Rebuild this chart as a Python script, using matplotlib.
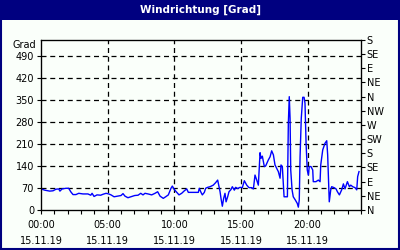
import matplotlib
matplotlib.use('Agg')
import matplotlib.pyplot as plt
from matplotlib.patches import Rectangle

# Zeit in Stunden ab 00:00 am 15.11.19, Windrichtung in Grad
hours = [0.0, 0.28, 0.65, 0.9, 1.12, 1.33, 1.42, 1.58, 1.88, 2.08, 2.23, 2.4, 2.62, 2.83,
         3.15, 3.52, 3.73, 3.83, 3.98, 4.2, 4.48, 4.65, 4.88, 5.08, 5.25, 5.48, 5.62,
         6.0, 6.15, 6.3, 6.52, 6.75, 7.03, 7.28, 7.48, 7.65, 7.8, 8.03, 8.3, 8.55, 8.75,
         8.93, 9.17, 9.35, 9.55, 9.75, 9.85, 10.0, 10.18, 10.35, 10.55, 10.75, 10.93,
         11.05, 11.25, 11.55, 11.8, 11.87, 12.0, 12.1, 12.25, 12.35, 12.5, 12.68, 12.92,
         13.1, 13.25, 13.35, 13.43, 13.5, 13.6, 13.7, 13.8, 13.88, 14.0, 14.1, 14.25,
         14.35, 14.5, 14.6, 14.75, 14.93, 15.1, 15.25, 15.43, 15.6, 15.8, 15.93, 16.05,
         16.18, 16.3, 16.43, 16.5, 16.6, 16.75, 16.85, 17.05, 17.18, 17.3, 17.43, 17.55,
         17.68, 17.8, 17.93, 18.0, 18.1, 18.23, 18.48, 18.55, 18.62, 18.68, 18.73, 18.83,
         18.92, 19.07, 19.22, 19.3, 19.37, 19.43, 19.52, 19.63, 19.73, 19.8, 19.88, 19.97,
         20.05, 20.12, 20.25, 20.38, 20.42, 20.62, 20.8, 20.93, 20.98, 21.13, 21.3, 21.43,
         21.5, 21.58, 21.62, 21.73, 21.8, 21.98, 22.13, 22.23, 22.38, 22.55, 22.68, 22.8,
         22.98, 23.13, 23.23, 23.38, 23.55, 23.68, 23.75, 23.85]
grad = [67, 63, 60, 61, 66, 67, 60, 67, 69, 69, 58, 49, 49, 53,
        51, 51, 47, 53, 43, 48, 47, 50, 53, 51, 48, 42, 43,
        46, 52, 44, 39, 42, 46, 47, 53, 48, 53, 51, 48, 53, 58,
        44, 37, 42, 48, 69, 76, 65, 56, 48, 53, 61, 67,
        56, 56, 56, 56, 69, 56, 48, 56, 69, 72, 74, 79,
        87, 95, 74, 58, 37, 12, 37, 53, 26, 42, 58, 65,
        74, 63, 72, 68, 72, 71, 93, 79, 71, 71, 67, 111,
        95, 79, 182, 164, 171, 138, 140, 159, 169, 188, 175, 143,
        132, 122, 101, 143, 138, 42, 42, 275, 360, 291, 127, 64,
        42, 32, 21, 9, 32, 169, 291, 358, 358, 339, 212, 127,
        111, 138, 138, 127, 90, 90, 95, 90, 143, 191, 212, 220,
        175, 74, 26, 64, 74, 71, 67, 58, 48, 64, 83, 67,
        90, 74, 79, 74, 71, 64, 106, 122]

x_ticks = [0, 5, 10, 15, 20]
x_labels = ['00:00\n15.11.19', '05:00\n15.11.19', '10:00\n15.11.19',
            '15:00\n15.11.19', '20:00\n15.11.19']
y_ticks = [0, 70, 140, 210, 280, 350, 420, 490]
dir_ticks = [0, 45, 90, 135, 180, 225, 270, 315, 360, 405, 450, 495, 540]
dir_labels = ['N', 'NE', 'E', 'SE', 'S', 'SW', 'W', 'NW', 'N', 'NE', 'E', 'SE', 'S']

navy = '#000080'
plt.rcParams['font.family'] = 'DejaVu Sans'
plt.rcParams['font.size'] = 7

fig = plt.figure(figsize=(4, 2.5), dpi=100)
fig.patch.set_facecolor('#fafffa')

# Titelbalken und Rahmen
fig.add_artist(Rectangle((0, 1 - 20 / 250), 1, 20 / 250, transform=fig.transFigure,
                         facecolor=navy, edgecolor='none'))
fig.add_artist(Rectangle((0.002, 0.003), 0.996, 0.994, transform=fig.transFigure,
                         fill=False, edgecolor=navy, linewidth=1.5))
fig.text(0.5, 1 - 9.5 / 250, 'Windrichtung [Grad]', color='white', fontweight='bold',
         ha='center', va='center', fontsize=7.5)

ax = fig.add_axes([41 / 400, 1 - 210 / 250, 320 / 400, 170 / 250])
ax.set_facecolor('#fafffa')
ax.plot(hours, grad, color='#0000ff', linewidth=1)

ax.set_xlim(0, 24)
ax.set_ylim(0, 540)
ax.set_xticks(x_ticks)
ax.set_xticklabels(x_labels, linespacing=1.75)
ax.set_xticks(range(25), minor=True)
ax.set_yticks(y_ticks)
ax.tick_params(axis='both', which='both', direction='out', length=3, width=0.8,
               colors='black', pad=2)
ax.tick_params(axis='x', pad=4)

for v in y_ticks[1:]:
    ax.axhline(v, color='black', linestyle=(0, (4, 3)), linewidth=0.9, zorder=0)
for h in x_ticks[1:]:
    ax.axvline(h, color='black', linestyle=(0, (4, 3)), linewidth=0.9, zorder=0)

for s in ax.spines.values():
    s.set_linewidth(0.9)

ax.text(-0.015, 0.97, 'Grad', transform=ax.transAxes, ha='right', va='center')

ax2 = ax.twinx()
ax2.set_ylim(0, 540)
ax2.set_yticks(dir_ticks)
ax2.set_yticklabels(dir_labels)
ax2.tick_params(axis='y', direction='out', length=3, width=0.8, pad=1)

plt.savefig('out.png', dpi=100, facecolor=fig.get_facecolor())
